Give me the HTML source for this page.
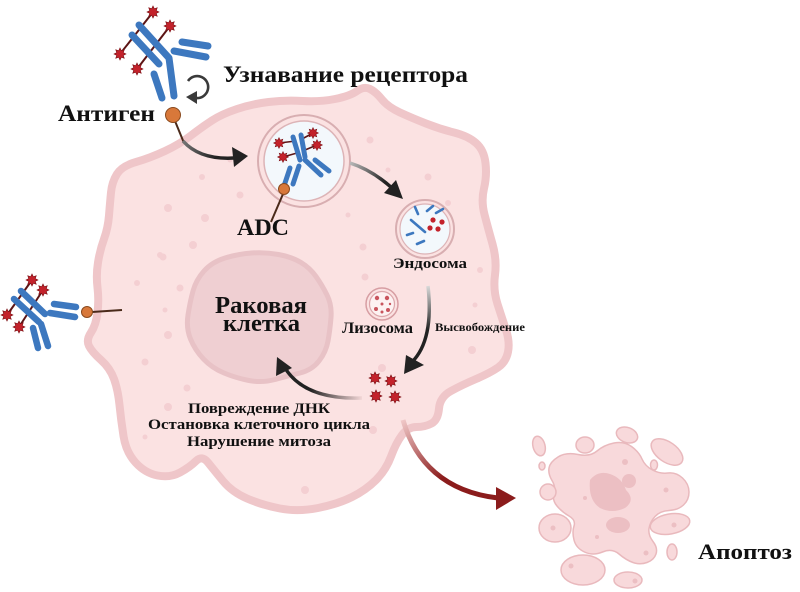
<!DOCTYPE html>
<html><head><meta charset="utf-8"><style>
html,body{margin:0;padding:0;background:#fff;}
svg{display:block;}
text{font-family:"Liberation Serif","DejaVu Serif",serif;font-weight:bold;fill:#111;}
</style></head><body>
<svg width="800" height="592" viewBox="0 0 800 592" xmlns="http://www.w3.org/2000/svg">
<defs>
<polygon id="st" points="6,0 3.23,1.34 4.24,4.24 1.34,3.23 0,6 -1.34,3.23 -4.24,4.24 -3.23,1.34 -6,0 -3.23,-1.34 -4.24,-4.24 -1.34,-3.23 0,-6 1.34,-3.23 4.24,-4.24 3.23,-1.34" fill="#c3222b" stroke="#7a0d12" stroke-width="0.6"/>
<linearGradient id="g1" gradientUnits="userSpaceOnUse" x1="183" y1="140" x2="215" y2="158"><stop offset="0" stop-color="#777"/><stop offset="1" stop-color="#222"/></linearGradient>
<linearGradient id="g2" gradientUnits="userSpaceOnUse" x1="350" y1="162" x2="385" y2="182"><stop offset="0" stop-color="#bbb"/><stop offset="1" stop-color="#222"/></linearGradient>
<linearGradient id="g3" gradientUnits="userSpaceOnUse" x1="428" y1="285" x2="428" y2="330"><stop offset="0" stop-color="#ddd"/><stop offset="1" stop-color="#222"/></linearGradient>
<linearGradient id="g4" gradientUnits="userSpaceOnUse" x1="362" y1="397" x2="310" y2="392"><stop offset="0" stop-color="#f2d6d6"/><stop offset="1" stop-color="#222"/></linearGradient>
<linearGradient id="g5" gradientUnits="userSpaceOnUse" x1="403" y1="420" x2="440" y2="480"><stop offset="0" stop-color="#f0c8c8"/><stop offset="1" stop-color="#8b1c1c"/></linearGradient>
</defs>

<!-- Cell -->
<path d="M111,192.5 Q112,182 117,174 Q122,166 136,162 Q150,158 165,151 Q180,144 191,135.5 Q202,127 212,120.5 Q222,114 237,109 Q252,104 268.5,102 Q285,100 302.5,101 Q320,102 335,99 Q350,96 357,91 Q364,86 370,89 Q376,92 382,99.5 Q388,107 400,112.5 Q412,118 426,123.5 Q440,129 454,132.5 Q468,136 476,143 Q484,150 485.5,163 Q487,176 484,188.5 Q481,201 484.5,214.5 Q488,228 492.5,244 Q497,260 495,275 Q493,290 497.5,304 Q502,318 506,330 Q510,342 508,352 Q506,362 498,367.5 Q490,373 476,379 Q462,385 451,391 Q440,397 439,408.5 Q438,420 431.5,423.5 Q425,427 416.5,427 Q408,427 402,435 Q396,443 391,456.5 Q386,470 376,480 Q366,490 352,497 Q338,504 318,508 Q298,512 280,508.5 Q262,505 247,498.5 Q232,492 223,481 Q214,470 208,462.5 Q202,455 196,461 Q190,467 180,472.5 Q170,478 157.5,475.5 Q145,473 135.5,462.5 Q126,452 123.5,436 Q121,420 119.5,405 Q118,390 114,379 Q110,368 101,360 Q92,352 89,346 Q86,340 91,332.5 Q96,325 97.5,312.5 Q99,300 97.5,287.5 Q96,275 98,262.5 Q100,250 104,239 Q108,228 109,215.5 Q110,203 111,192.5 Z" fill="#fbe2e2" stroke="#efc6c9" stroke-width="8" stroke-linejoin="round"/>

<!-- cell dots -->
<g fill="#f4cfd2">
<circle cx="370" cy="140" r="3.5"/><circle cx="388" cy="170" r="2.5"/><circle cx="428" cy="177" r="3.5"/>
<circle cx="168" cy="208" r="4"/><circle cx="205" cy="218" r="4"/><circle cx="193" cy="245" r="4"/>
<circle cx="160" cy="255" r="3"/><circle cx="137" cy="283" r="3"/><circle cx="180" cy="288" r="3.5"/>
<circle cx="163" cy="257" r="3.5"/><circle cx="165" cy="310" r="2.5"/><circle cx="168" cy="335" r="4"/>
<circle cx="202" cy="177" r="3"/><circle cx="240" cy="195" r="3.5"/><circle cx="348" cy="215" r="2.5"/>
<circle cx="363" cy="247" r="3.5"/><circle cx="365" cy="277" r="3.5"/><circle cx="448" cy="203" r="3"/>
<circle cx="480" cy="270" r="3"/><circle cx="475" cy="305" r="2.5"/><circle cx="472" cy="350" r="4"/>
<circle cx="145" cy="362" r="3.5"/><circle cx="187" cy="388" r="3.5"/><circle cx="168" cy="407" r="4"/>
<circle cx="145" cy="437" r="2.5"/><circle cx="382" cy="368" r="4"/><circle cx="373" cy="430" r="4"/>
<circle cx="305" cy="490" r="4"/><circle cx="230" cy="160" r="2.5"/>
</g>

<!-- Nucleus -->
<path d="M204,271 Q212,262 225,258 Q238,254 251.5,253 Q265,252 278.5,254.5 Q292,257 301,262.5 Q310,268 316,276.5 Q322,285 327,295 Q332,305 331,317.5 Q330,330 328,341 Q326,352 319,361 Q312,370 300,373 Q288,376 275,379.5 Q262,383 249,380.5 Q236,378 224,373 Q212,368 203.5,359 Q195,350 190.5,339 Q186,328 188,315 Q190,302 193,291 Q196,280 204,271 Z" fill="#efcfd2" stroke="#e8c2c6" stroke-width="5"/>
<text x="215" y="313" font-size="24" textLength="92" lengthAdjust="spacingAndGlyphs">Раковая</text>
<text x="223" y="331" font-size="24" textLength="77" lengthAdjust="spacingAndGlyphs">клетка</text>

<!-- Top antibody -->
<g stroke="#5c1515" stroke-width="2"><line x1="153" y1="12" x2="120" y2="54"/><line x1="170" y1="26" x2="137" y2="69"/></g>
<g stroke="#3d78bf" stroke-width="7" stroke-linecap="round" fill="none" stroke-linejoin="round">
<polyline points="139,25 169,58 174,96"/>
<line x1="132" y1="35" x2="159" y2="64"/>
<line x1="182" y1="42" x2="208" y2="46"/>
<line x1="174" y1="51" x2="206" y2="57"/>
<line x1="154" y1="74" x2="162" y2="98"/>
</g>
<use href="#st" x="153" y="12"/><use href="#st" x="170" y="26"/><use href="#st" x="120" y="54"/><use href="#st" x="137" y="69"/>
<!-- circular arrow -->
<path d="M188,81 A11 11 0 1 1 196,98" fill="none" stroke="#3a3a3a" stroke-width="2.6"/>
<polygon points="186,97 197,91 197,104" fill="#3a3a3a"/>
<!-- antigen -->
<line x1="175" y1="121" x2="184" y2="143" stroke="#4a2a1a" stroke-width="2"/>
<circle cx="173" cy="115" r="7.5" fill="#d8783a" stroke="#8a4a1e" stroke-width="1"/>
<text x="223" y="82" font-size="23" textLength="245" lengthAdjust="spacingAndGlyphs">Узнавание рецептора</text>
<text x="58" y="121" font-size="23" textLength="97" lengthAdjust="spacingAndGlyphs">Антиген</text>

<!-- Arrow 1 -->
<path d="M183,141 Q200,160 234,158" fill="none" stroke="url(#g1)" stroke-width="3.5"/>
<polygon points="248,156 232,147 234,167" fill="#222"/>

<!-- ADC vesicle -->
<circle cx="304" cy="161" r="46" fill="none" stroke="#d8aeb1" stroke-width="2"/>
<circle cx="304" cy="161" r="40" fill="#f3f8fc" stroke="#ddb4b7" stroke-width="1.5"/>
<g stroke="#5c1515" stroke-width="1.6"><line x1="279" y1="143" x2="296" y2="141"/><line x1="313" y1="133" x2="302" y2="139"/><line x1="317" y1="145" x2="305" y2="150"/><line x1="283" y1="157" x2="297" y2="153"/></g>
<g stroke="#3d78bf" stroke-width="5" stroke-linecap="round" fill="none">
<line x1="293" y1="137" x2="300" y2="160"/>
<line x1="301" y1="135" x2="305" y2="157"/>
<line x1="305" y1="160" x2="321" y2="175"/>
<line x1="315" y1="160" x2="329" y2="171"/>
<line x1="290" y1="168" x2="284" y2="186"/>
<line x1="299" y1="166" x2="293" y2="184"/>
</g>
<use href="#st" x="279" y="143" transform="translate(27.9,14.3) scale(0.9)"/>
<use href="#st" x="313" y="133" transform="translate(31.3,13.3) scale(0.9)"/>
<use href="#st" x="317" y="145" transform="translate(31.7,14.5) scale(0.9)"/>
<use href="#st" x="283" y="157" transform="translate(28.3,15.7) scale(0.9)"/>
<line x1="283" y1="194" x2="271" y2="222" stroke="#4a2a1a" stroke-width="2"/>
<circle cx="284" cy="189" r="5.5" fill="#d8783a" stroke="#8a4a1e" stroke-width="1"/>
<text x="237" y="235" font-size="23" textLength="52" lengthAdjust="spacingAndGlyphs">ADC</text>

<!-- Arrow 2 -->
<path d="M350,163 Q372,170 392,188" fill="none" stroke="url(#g2)" stroke-width="3.5"/>
<polygon points="403,199 384,193 396,180" fill="#222"/>

<!-- Endosome -->
<circle cx="425" cy="229" r="29" fill="none" stroke="#d8aeb1" stroke-width="2"/>
<circle cx="425" cy="229" r="25" fill="#f3f8fc" stroke="#ddb4b7" stroke-width="1.2"/>
<g stroke="#3d78bf" stroke-width="2.6" stroke-linecap="round">
<line x1="415" y1="207" x2="418" y2="214"/><line x1="427" y1="211" x2="433" y2="206"/><line x1="436" y1="213" x2="443" y2="209"/>
<line x1="411" y1="220" x2="425" y2="232"/><line x1="407" y1="235" x2="413" y2="233"/><line x1="417" y1="244" x2="424" y2="241"/>
</g>
<g fill="#c3222b"><circle cx="433" cy="220" r="2.6"/><circle cx="442" cy="222" r="2.6"/><circle cx="430" cy="228" r="2.6"/><circle cx="438" cy="229" r="2.6"/></g>
<text x="393" y="268" font-size="15" textLength="74" lengthAdjust="spacingAndGlyphs">Эндосома</text>

<!-- Lysosome -->
<circle cx="382" cy="304" r="16" fill="none" stroke="#d79ea3" stroke-width="1.5"/>
<circle cx="382" cy="304" r="12.5" fill="#fdf2f2" stroke="#dca7ab" stroke-width="1.2"/>
<g fill="#c9555e"><circle cx="377" cy="298" r="2.2"/><circle cx="387" cy="298" r="2.2"/><circle cx="382" cy="304" r="1.5"/><circle cx="376" cy="309" r="2"/><circle cx="388" cy="310" r="2"/><circle cx="382" cy="312" r="1.5"/><circle cx="390" cy="304" r="1.2"/></g>
<text x="342" y="333" font-size="16" textLength="71" lengthAdjust="spacingAndGlyphs">Лизосома</text>
<text x="435" y="331" font-size="12" textLength="90" lengthAdjust="spacingAndGlyphs">Высвобождение</text>

<!-- Arrow 3 -->
<path d="M428,286 Q434,340 412,362" fill="none" stroke="url(#g3)" stroke-width="3.5"/>
<polygon points="404,374 406,355 424,365" fill="#222"/>

<!-- Drugs -->
<use href="#st" x="375" y="378"/><use href="#st" x="391" y="381"/><use href="#st" x="376" y="396"/><use href="#st" x="395" y="397"/>

<!-- Arrow 4 -->
<path d="M362,398 Q305,400 285,368" fill="none" stroke="url(#g4)" stroke-width="3.5"/>
<polygon points="277,357 276,376 292,368" fill="#222"/>

<text x="188" y="413" font-size="15" textLength="142" lengthAdjust="spacingAndGlyphs">Повреждение ДНК</text>
<text x="148" y="429" font-size="15" textLength="222" lengthAdjust="spacingAndGlyphs">Остановка клеточного цикла</text>
<text x="187" y="446" font-size="15" textLength="144" lengthAdjust="spacingAndGlyphs">Нарушение митоза</text>

<!-- Left antibody -->
<g stroke="#5c1515" stroke-width="2"><line x1="32" y1="280" x2="7" y2="315"/><line x1="43" y1="290" x2="19" y2="327"/></g>
<g stroke="#3d78bf" stroke-width="6.5" stroke-linecap="round" fill="none">
<line x1="21" y1="291" x2="45" y2="314"/>
<line x1="14" y1="299" x2="39" y2="322"/>
<line x1="54" y1="304" x2="76" y2="307"/>
<line x1="50" y1="313" x2="75" y2="317"/>
<line x1="33" y1="328" x2="38" y2="348"/>
<line x1="41" y1="324" x2="48" y2="346"/>
</g>
<use href="#st" x="32" y="280"/><use href="#st" x="43" y="290"/><use href="#st" x="7" y="315"/><use href="#st" x="19" y="327"/>
<line x1="92" y1="312" x2="122" y2="310" stroke="#4a2a1a" stroke-width="2"/>
<circle cx="87" cy="312" r="5.5" fill="#d8783a" stroke="#8a4a1e" stroke-width="1"/>

<!-- Red arrow -->
<path d="M403,420 C415,462 445,492 498,498" fill="none" stroke="url(#g5)" stroke-width="5"/>
<polygon points="516,498 496,487 496,510" fill="#8b1c1c"/>

<!-- Apoptosis -->
<g fill="#f8d9db" stroke="#e9b9bd" stroke-width="1.5">
<path d="M549,468 Q550,462 558,457 Q566,452 578,454.5 Q590,457 597,451 Q604,445 614,443 Q624,441 631.5,446.5 Q639,452 642,459 Q645,466 652.5,470 Q660,474 668,473 Q676,472 682.5,478 Q689,484 689,492 Q689,500 683.5,505 Q678,510 669,510.5 Q660,511 655,516.5 Q650,522 649,528.5 Q648,535 653,541.5 Q658,548 656,554 Q654,560 647,562.5 Q640,565 633,562.5 Q626,560 619,554 Q612,548 602.5,552 Q593,556 584.5,552 Q576,548 574,540 Q572,532 574,526 Q576,520 569,516 Q562,512 557,506 Q552,500 554,493.5 Q556,487 552,480.5 Q548,474 549,468 Z"/>
<ellipse cx="539" cy="446" rx="6" ry="10" transform="rotate(-15 539 446)"/>
<ellipse cx="585" cy="445" rx="9" ry="8"/>
<ellipse cx="627" cy="435" rx="11" ry="7.5" transform="rotate(20 627 435)"/>
<ellipse cx="667" cy="452" rx="18" ry="10" transform="rotate(35 667 452)"/>
<ellipse cx="542" cy="466" rx="3" ry="4"/>
<ellipse cx="654" cy="465" rx="3.5" ry="5"/>
<ellipse cx="548" cy="492" rx="8" ry="8"/>
<ellipse cx="555" cy="528" rx="16" ry="14"/>
<ellipse cx="670" cy="524" rx="20" ry="10" transform="rotate(-10 670 524)"/>
<ellipse cx="672" cy="552" rx="5" ry="8"/>
<ellipse cx="583" cy="570" rx="22" ry="15"/>
<ellipse cx="628" cy="580" rx="14" ry="8"/>
</g>
<g fill="#ecbfc3">
<path d="M590,480 Q598,470 610,474 Q622,478 626,490 Q636,500 625,508 Q612,514 600,508 Q588,500 590,480 Z"/>
<circle cx="629" cy="481" r="7"/>
<ellipse cx="618" cy="525" rx="12" ry="8"/>
<circle cx="625" cy="462" r="3"/><circle cx="553" cy="528" r="2.5"/><circle cx="674" cy="525" r="2.5"/><circle cx="571" cy="566" r="2.5"/><circle cx="646" cy="553" r="2.5"/><circle cx="585" cy="498" r="2"/><circle cx="666" cy="490" r="2.5"/><circle cx="597" cy="537" r="2"/><circle cx="635" cy="581" r="2.5"/>
</g>
<text x="698" y="559" font-size="22" textLength="94" lengthAdjust="spacingAndGlyphs">Апоптоз</text>
</svg>
</body></html>
